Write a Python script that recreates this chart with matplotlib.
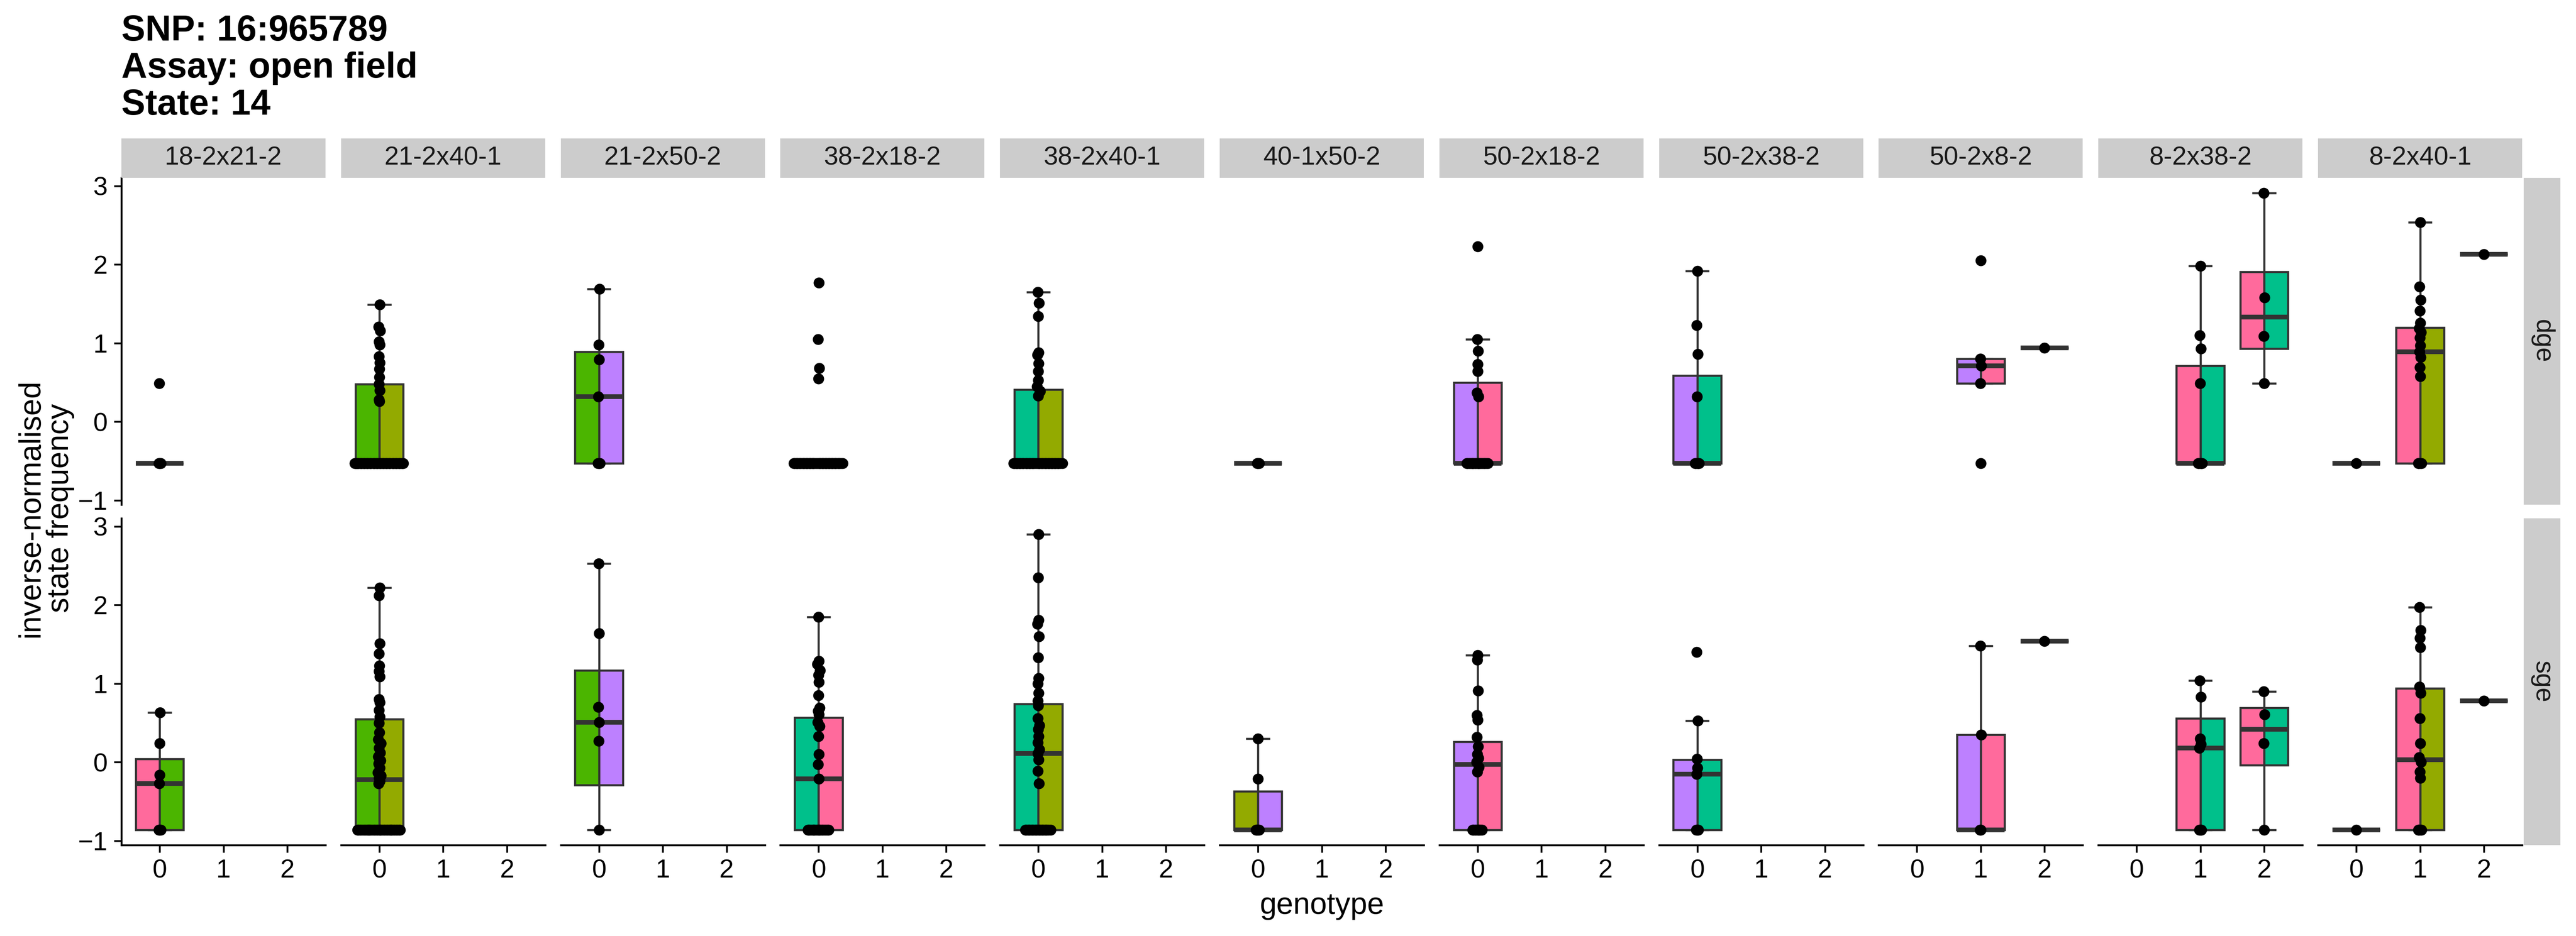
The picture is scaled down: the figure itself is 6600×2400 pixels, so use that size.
import numpy as np
import matplotlib
matplotlib.use('Agg')
import matplotlib.pyplot as plt

plt.rcParams['font.family'] = ['Liberation Sans', 'DejaVu Sans']

# facets
crosses = ['18-2x21-2', '21-2x40-1', '21-2x50-2', '38-2x18-2', '38-2x40-1', '40-1x50-2',
           '50-2x18-2', '50-2x38-2', '50-2x8-2', '8-2x38-2', '8-2x40-1']
rows = ['dge', 'sge']
genotypes = [0, 1, 2]

strain_colours = {'18-2': '#FF6A9C', '8-2': '#FF6A9C', '21-2': '#4BB500',
                  '40-1': '#93AA00', '38-2': '#00C08B', '50-2': '#BD80FF'}

# box stats: (genotype, q1, median, q3, whisker low, whisker high)
dge_boxes = {
    '18-2x21-2': [(0, -0.53, -0.53, -0.53, -0.53, -0.53)],
    '21-2x40-1': [(0, -0.53, -0.53, 0.48, -0.53, 1.49)],
    '21-2x50-2': [(0, -0.53, 0.32, 0.89, -0.53, 1.69)],
    '38-2x18-2': [(0, -0.53, -0.53, -0.53, -0.53, -0.53)],
    '38-2x40-1': [(0, -0.53, -0.53, 0.41, -0.53, 1.65)],
    '40-1x50-2': [(0, -0.53, -0.53, -0.53, -0.53, -0.53)],
    '50-2x18-2': [(0, -0.53, -0.53, 0.50, -0.53, 1.05)],
    '50-2x38-2': [(0, -0.53, -0.53, 0.59, -0.53, 1.92)],
    '50-2x8-2': [(1, 0.49, 0.71, 0.80, 0.49, 0.80), (2, 0.94, 0.94, 0.94, 0.94, 0.94)],
    '8-2x38-2': [(1, -0.53, -0.53, 0.71, -0.53, 1.98), (2, 0.93, 1.33, 1.91, 0.49, 2.91)],
    '8-2x40-1': [(0, -0.53, -0.53, -0.53, -0.53, -0.53), (1, -0.53, 0.89, 1.20, -0.53, 2.54),
                 (2, 2.13, 2.13, 2.13, 2.13, 2.13)],
}
sge_boxes = {
    '18-2x21-2': [(0, -0.86, -0.27, 0.04, -0.86, 0.63)],
    '21-2x40-1': [(0, -0.86, -0.22, 0.55, -0.86, 2.22)],
    '21-2x50-2': [(0, -0.29, 0.51, 1.17, -0.86, 2.53)],
    '38-2x18-2': [(0, -0.86, -0.21, 0.57, -0.86, 1.85)],
    '38-2x40-1': [(0, -0.86, 0.11, 0.74, -0.86, 2.90)],
    '40-1x50-2': [(0, -0.86, -0.86, -0.37, -0.86, 0.30)],
    '50-2x18-2': [(0, -0.86, -0.03, 0.26, -0.86, 1.36)],
    '50-2x38-2': [(0, -0.86, -0.15, 0.03, -0.86, 0.53)],
    '50-2x8-2': [(1, -0.86, -0.86, 0.35, -0.86, 1.48), (2, 1.54, 1.54, 1.54, 1.54, 1.54)],
    '8-2x38-2': [(1, -0.86, 0.18, 0.56, -0.86, 1.04), (2, -0.04, 0.42, 0.69, -0.86, 0.90)],
    '8-2x40-1': [(0, -0.86, -0.86, -0.86, -0.86, -0.86), (1, -0.86, 0.03, 0.94, -0.86, 1.97),
                 (2, 0.78, 0.78, 0.78, 0.78, 0.78)],
}

# individual samples
dge_points = {
    '18-2x21-2': {0: [0.49] + [-0.53] * 3},
    '21-2x40-1': {0: [1.49, 1.21, 1.16, 1.02, 0.98, 0.83, 0.75, 0.67, 0.57, 0.48, 0.40, 0.28, 0.26]
                  + [-0.53] * 48},
    '21-2x50-2': {0: [1.69, 0.98, 0.79, 0.32, -0.53, -0.53, -0.53]},
    '38-2x18-2': {0: [1.77, 1.05, 0.68, 0.55] + [-0.53] * 45},
    '38-2x40-1': {0: [1.65, 1.51, 1.34, 0.88, 0.85, 0.74, 0.64, 0.53, 0.45, 0.39, 0.33]
                  + [-0.53] * 45},
    '40-1x50-2': {0: [-0.53] * 3},
    '50-2x18-2': {0: [2.23, 1.05, 0.90, 0.73, 0.64, 0.37, 0.32] + [-0.53] * 18},
    '50-2x38-2': {0: [1.92, 1.23, 0.86, 0.32] + [-0.53] * 5},
    '50-2x8-2': {1: [2.05, 0.80, 0.71, 0.49, -0.53], 2: [0.94]},
    '8-2x38-2': {1: [1.98, 1.10, 0.93, 0.49] + [-0.53] * 5, 2: [2.91, 1.58, 1.09, 0.49]},
    '8-2x40-1': {0: [-0.53],
                 1: [2.54, 1.72, 1.55, 1.41, 1.26, 1.19, 1.14, 1.07, 0.97, 0.89, 0.82, 0.69, 0.58]
                 + [-0.53] * 4,
                 2: [2.13]},
}
sge_points = {
    '18-2x21-2': {0: [0.63, 0.24, -0.16, -0.27, -0.86, -0.86, -0.86]},
    '21-2x40-1': {0: [2.22, 2.12, 1.51, 1.38, 1.23, 1.16, 1.09, 0.80, 0.76, 0.66, 0.58, 0.50, 0.38,
                      0.29, 0.24, 0.18, 0.12, 0.07, 0.02, -0.02, -0.07, -0.13, -0.17, -0.20,
                      -0.24, -0.27] + [-0.86] * 35},
    '21-2x50-2': {0: [2.53, 1.64, 0.70, 0.51, 0.27, -0.86]},
    '38-2x18-2': {0: [1.85, 1.29, 1.25, 1.17, 1.11, 1.02, 0.85, 0.69, 0.65, 0.61, 0.51, 0.46, 0.33,
                      0.10, -0.03, -0.21] + [-0.86] * 18},
    '38-2x40-1': {0: [2.90, 2.35, 1.81, 1.76, 1.60, 1.33, 1.07, 1.00, 0.88, 0.78, 0.72, 0.56, 0.47,
                      0.42, 0.33, 0.25, 0.16, 0.11, 0.03, -0.11, -0.27] + [-0.86] * 22},
    '40-1x50-2': {0: [0.30, -0.21] + [-0.86] * 4},
    '50-2x18-2': {0: [1.36, 1.30, 0.91, 0.60, 0.54, 0.32, 0.20, 0.10, 0.05, 0.00, -0.06, -0.12]
                  + [-0.86] * 9},
    '50-2x38-2': {0: [1.40, 0.53, 0.04, -0.07, -0.15, -0.86, -0.86, -0.86]},
    '50-2x8-2': {1: [1.48, 0.35, -0.86, -0.86], 2: [1.54]},
    '8-2x38-2': {1: [1.04, 0.83, 0.30, 0.23, 0.18, -0.86, -0.86, -0.86], 2: [0.90, 0.61, 0.24, -0.86]},
    '8-2x40-1': {0: [-0.86],
                 1: [1.97, 1.68, 1.58, 1.46, 0.96, 0.88, 0.56, 0.24, 0.06, 0.00, -0.12, -0.20]
                 + [-0.86] * 4,
                 2: [0.78]},
}

title_lines = ['SNP: 16:965789', 'Assay: open field', 'State: 14']


def van_der_corput(n, base=2):
    seq = []
    for k in range(1, n + 1):
        q, denom, x = k, 1, 0.0
        while q:
            denom *= base
            q, r = divmod(q, base)
            x += r / denom
        seq.append(x)
    return np.array(seq)


def quasi_offsets(vals, width=0.4, window=0.06, full=40):
    # rough quasirandom spread: ties fan out, lone points stay near the centre
    vals = np.asarray(vals, dtype=float)
    if len(vals) < 2:
        return np.zeros(len(vals))
    order = np.argsort(vals, kind='stable')
    counts = np.array([np.sum(np.abs(vals - v) <= window) for v in vals])
    dens = np.minimum(1.0, counts / full)
    off = np.empty(len(vals))
    off[order] = 2 * van_der_corput(len(vals)) - 1
    return off * dens * width


W, H = 6600, 2400
fig = plt.figure(figsize=(22, 8), dpi=300)

panel_left0 = 311
panel_step = 562.8
panel_w = 523
row_tops = [456, 1329]
panel_h = 838
edge = '#333333'
ylim = (-1.055, 3.104)
box_lw = 1.3


def fig_rect(x0, y0, w, h):
    return [x0 / W, 1 - (y0 + h) / H, w / W, h / H]


for r, (boxes, points) in enumerate([(dge_boxes, dge_points), (sge_boxes, sge_points)]):
    for c, cross in enumerate(crosses):
        x0 = panel_left0 + c * panel_step
        ax = fig.add_axes(fig_rect(x0, row_tops[r], panel_w, panel_h))
        left_col, right_col = [strain_colours[s] for s in cross.split('x')]

        for g, q1, med, q3, lo, hi in boxes[cross]:
            ax.vlines(g, q3, hi, color=edge, lw=box_lw, zorder=1)
            ax.vlines(g, lo, q1, color=edge, lw=box_lw, zorder=1)
            ax.hlines([lo, hi], g - 0.1875, g + 0.1875, color=edge, lw=box_lw, zorder=1)
            ax.bar(g - 0.375, q3 - q1, width=0.375, bottom=q1, align='edge',
                   color=left_col, edgecolor=edge, lw=box_lw, zorder=2)
            ax.bar(g, q3 - q1, width=0.375, bottom=q1, align='edge',
                   color=right_col, edgecolor=edge, lw=box_lw, zorder=2)
            ax.hlines(med, g - 0.375, g + 0.375, color=edge, lw=2.9, zorder=3)

        for g, vals in points[cross].items():
            ax.scatter(g + quasi_offsets(vals), vals, s=45, c='black', lw=0, zorder=5,
                       clip_on=False)

        ax.set_xlim(-0.6, 2.6)
        ax.set_ylim(*ylim)
        ax.set_xticks(genotypes)
        ax.set_yticks([-1, 0, 1, 2, 3])
        for sp in ax.spines.values():
            sp.set_visible(False)
        ax.tick_params(length=4.5, width=1.1, labelsize=16, pad=4, color='black',
                       labelcolor='black')
        if c == 0:
            ax.spines['left'].set_visible(True)
            ax.spines['left'].set_linewidth(1.15)
        else:
            ax.tick_params(axis='y', left=False, labelleft=False)
        if r == 1:
            ax.spines['bottom'].set_visible(True)
            ax.spines['bottom'].set_linewidth(1.15)
        else:
            ax.tick_params(axis='x', bottom=False, labelbottom=False)
        ax.patch.set_visible(False)

        # column strips
        if r == 0:
            sax = fig.add_axes(fig_rect(x0, 355, panel_w, 101))
            sax.set_facecolor('#CCCCCC')
            sax.set_xticks([])
            sax.set_yticks([])
            for sp in sax.spines.values():
                sp.set_visible(False)
            sax.text(0.5, 0.5, cross, ha='center', va='center', fontsize=16, color='#1A1A1A',
                     transform=sax.transAxes)

    # row strip
    rax = fig.add_axes(fig_rect(6466, row_tops[r], 94, panel_h))
    rax.set_facecolor('#CCCCCC')
    rax.set_xticks([])
    rax.set_yticks([])
    for sp in rax.spines.values():
        sp.set_visible(False)
    rax.text(0.5, 0.5, rows[r], ha='center', va='center', fontsize=16, color='#1A1A1A',
             rotation=-90, transform=rax.transAxes)

for i, line in enumerate(title_lines):
    fig.text(311 / W, 1 - (104 + i * 95) / H, line, fontsize=22, fontweight='bold',
             ha='left', va='baseline')

fig.text(117 / W, 1 - 1303 / H, 'inverse-normalised\nstate frequency', rotation=90,
         ha='center', va='center', multialignment='center', fontsize=18.8, linespacing=1.05)
fig.text(3387 / W, 1 - 2343 / H, 'genotype', ha='center', va='baseline', fontsize=18.6)

fig.savefig('out.png', dpi=300, facecolor='white')
